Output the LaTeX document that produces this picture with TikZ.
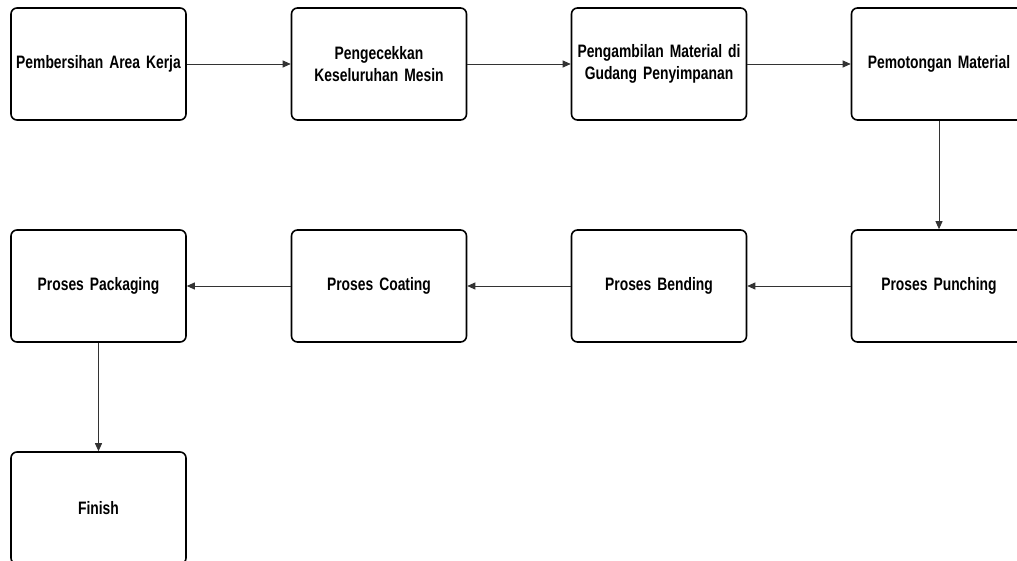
\documentclass[tikz,border=0pt]{standalone}
\usepackage{fontspec}
\setmainfont{Liberation Sans}[FakeStretch=0.77]
\usetikzlibrary{arrows.meta}
\newcommand{\boxfont}{\fontsize{18}{22}\selectfont\bfseries\fontdimen2\font=3pt\relax}
\begin{document}
\begin{tikzpicture}[x=1pt,y=-1pt,
  stepbox/.style={draw=black, line width=1.6pt, rounded corners=6pt, minimum width=175pt, minimum height=112pt, inner sep=0pt, align=center, text width=172pt, font=\boxfont, fill=white},
  conn/.style={draw=black!80, line width=0.9pt, -{Triangle[length=8pt,width=7pt]}}]
\useasboundingbox[fill=white] (0,0) rectangle (1017,561);
\node[stepbox] (a1) at (98.5,64) {Pembersihan Area Kerja};
\node[stepbox] (a2) at (379,64) {Pengecekkan\\Keseluruhan Mesin};
\node[stepbox] (a3) at (659,64) {Pengambilan Material di\\Gudang Penyimpanan};
\node[stepbox] (a4) at (939,64) {Pemotongan Material};
\node[stepbox] (b4) at (939,286) {Proses Punching};
\node[stepbox] (b3) at (659,286) {Proses Bending};
\node[stepbox] (b2) at (379,286) {Proses Coating};
\node[stepbox] (b1) at (98.5,286) {Proses Packaging};
\node[stepbox] (c1) at (98.5,508) {Finish};
\draw[conn] (a1) -- (a2);
\draw[conn] (a2) -- (a3);
\draw[conn] (a3) -- (a4);
\draw[conn] (a4) -- (b4);
\draw[conn] (b4) -- (b3);
\draw[conn] (b3) -- (b2);
\draw[conn] (b2) -- (b1);
\draw[conn] (b1) -- (c1);
\end{tikzpicture}
\end{document}
